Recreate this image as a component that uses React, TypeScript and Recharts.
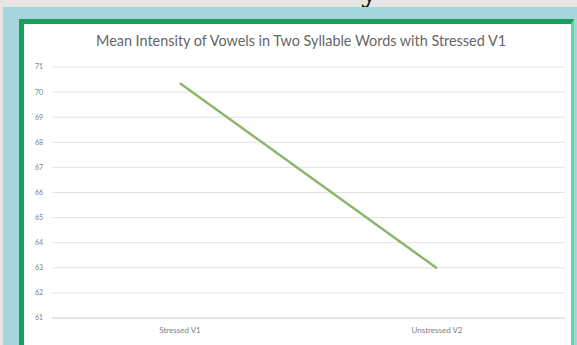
import { CartesianGrid, Line, LineChart, XAxis, YAxis } from "recharts";

const categories = ["Stressed V1", "Unstressed V2"];
const meanIntensity = [70.35, 62.98];
const yTicks = [61, 62, 63, 64, 65, 66, 67, 68, 69, 70, 71];

const chartData = categories.map((name, i) => ({ name, intensity: meanIntensity[i] }));

const FONT = "Lato, 'Open Sans', sans-serif";

export default function App() {
  return (
    <div
      style={{
        position: "fixed",
        left: 0,
        top: 0,
        width: 577,
        height: 345,
        overflow: "hidden",
        background: "#e8e6e3",
      }}
    >
      {/* tail of the slide heading above the chart */}
      <div
        style={{
          position: "absolute",
          left: 361,
          top: -26,
          fontFamily: "'DejaVu Serif', serif",
          fontSize: 30,
          color: "#111",
        }}
      >
        y
      </div>
      <div
        style={{
          position: "absolute",
          left: 3,
          top: 7,
          width: 574,
          height: 340,
          background: "#a5d6de",
        }}
      />
      <div
        style={{
          position: "absolute",
          left: 19,
          top: 19,
          width: 547,
          height: 330,
          background: "#ffffff",
          borderTop: "5px solid #17a157",
          borderLeft: "5px solid #17a157",
          borderRight: "3px solid #62d69c",
        }}
      />
      <div
        style={{
          position: "absolute",
          left: 0,
          top: 32,
          width: 602,
          textAlign: "center",
          fontFamily: FONT,
          fontSize: 14.4,
          color: "#666666",
        }}
      >
        Mean Intensity of Vowels in Two Syllable Words with Stressed V1
      </div>
      <div style={{ position: "absolute", left: 0, top: 0 }}>
        <LineChart
          width={577}
          height={345}
          data={chartData}
          margin={{ top: 67, right: 12, left: 28, bottom: 7 }}
        >
          <CartesianGrid vertical={false} stroke="#e3e3e3" />
          <XAxis
            dataKey="name"
            height={20}
            padding={{ left: 128, right: 128 }}
            stroke="#d9d9d9"
            tickLine={false}
            tickSize={0}
            tickMargin={9}
            tick={{ fontSize: 8, fill: "#808080", fontFamily: FONT }}
          />
          <YAxis
            width={24}
            domain={[61, 71]}
            ticks={yTicks}
            axisLine={false}
            tickLine={false}
            tickSize={0}
            tickMargin={9}
            tick={{ fontSize: 7, fill: "#808080", fontFamily: FONT }}
          />
          <Line
            type="linear"
            dataKey="intensity"
            stroke="#8db66b"
            strokeWidth={2.5}
            dot={false}
            isAnimationActive={false}
          />
        </LineChart>
      </div>
    </div>
  );
}
